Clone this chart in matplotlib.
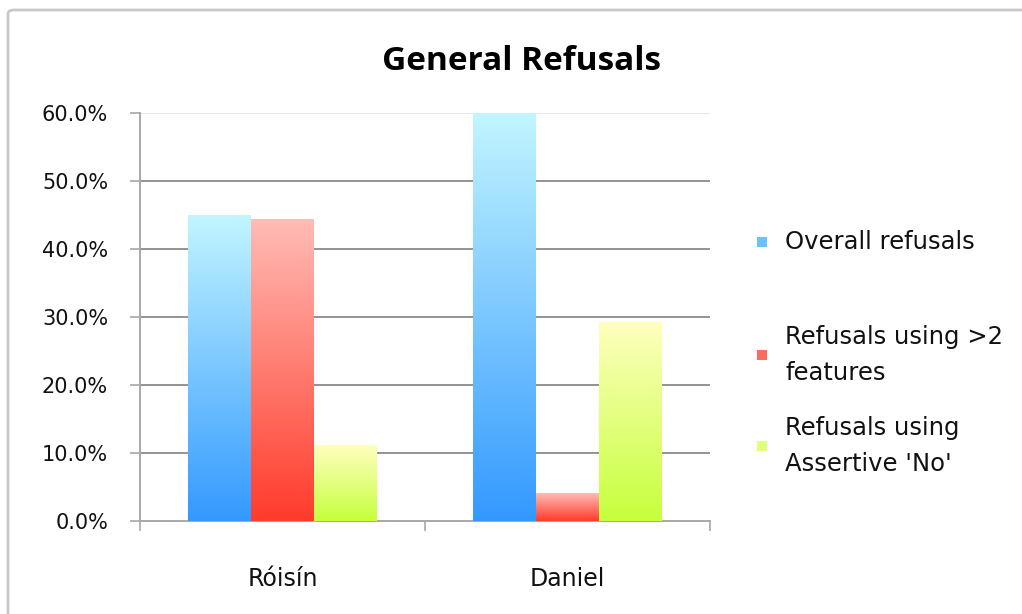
import numpy as np
import matplotlib
matplotlib.use("Agg")
import matplotlib.pyplot as plt
from matplotlib.colors import LinearSegmentedColormap
from matplotlib.patches import FancyBboxPatch, Rectangle
from matplotlib.ticker import PercentFormatter

# ---- data ----
categories = ["Róisín", "Daniel"]
series_names = ["Overall refusals", "Refusals using >2\nfeatures", "Refusals using\nAssertive 'No'"]
overall = [45.0, 60.0]
more_than_two = [44.4, 4.0]
assertive_no = [11.1, 29.2]
y_ticks = [0, 10, 20, 30, 40, 50, 60]

# gradient stops (top colour, bottom colour) per series
gradients = [("#c2f5ff", "#3399ff"), ("#ffbcb6", "#ff3b2b"), ("#ffffbe", "#c6ff3c")]
legend_colors = ["#6cc0ff", "#ff6a5e", "#e0ff7a"]

plt.rcParams["font.family"] = ["DejaVu Sans"]

W, H, DPI = 1022, 614, 100
fig = plt.figure(figsize=(W / DPI, H / DPI), dpi=DPI)
fig.patch.set_facecolor("white")

# outer chart frame
frame = FancyBboxPatch((8 / W, -0.05), 1.2, (H - 10) / H + 0.05,
                       boxstyle="round,pad=0,rounding_size=0.006",
                       transform=fig.transFigure, facecolor="none",
                       edgecolor="#c8c8c8", linewidth=2.0, zorder=-5)
fig.patches.append(frame)

left, right, top, bottom = 140, 710, 113, 521
ax = fig.add_axes([left / W, 1 - bottom / H, (right - left) / W, (bottom - top) / H])
ax.set_facecolor("none")

x = np.arange(len(categories))
bw = 0.221
all_series = [overall, more_than_two, assertive_no]
offsets = [-bw, 0.0, bw]

grad = np.linspace(0, 1, 256).reshape(-1, 1)
for vals, off, (ctop, cbot) in zip(all_series, offsets, gradients):
    bars = ax.bar(x + off, vals, width=bw, color="none", edgecolor="none", zorder=3)
    cmap = LinearSegmentedColormap.from_list("g", [cbot, ctop])
    for b in bars:
        bx, by = b.get_x(), b.get_y()
        bwid, bh = b.get_width(), b.get_height()
        ax.imshow(grad, cmap=cmap, aspect="auto", origin="lower",
                  extent=[bx, bx + bwid, by, by + bh], zorder=3,
                  interpolation="bilinear")

ax.set_xlim(-0.5, len(categories) - 0.5)
ax.set_ylim(0, 60)

# gridlines
for yv in y_ticks[1:]:
    col = "#e6e6e6" if yv == y_ticks[-1] else "#939393"
    ax.axhline(yv, color=col, linewidth=1.4, zorder=1)

for s in ["top", "right"]:
    ax.spines[s].set_visible(False)
for s in ["left", "bottom"]:
    ax.spines[s].set_color("#a8a8a8")
    ax.spines[s].set_linewidth(1.4)

ax.set_yticks(y_ticks)
ax.yaxis.set_major_formatter(PercentFormatter(decimals=1))
ax.tick_params(axis="y", direction="out", length=7, width=1.2, color="#a8a8a8",
               pad=16, labelsize=15, labelcolor="#111111")

ax.set_xticks(x)
ax.set_xticklabels(categories)
ax.set_xticks(np.arange(-0.5, len(categories), 1.0), minor=True)
ax.tick_params(axis="x", which="major", length=0, pad=33, labelsize=17, labelcolor="#111111")
ax.tick_params(axis="x", which="minor", direction="out", length=7, width=1.2, color="#a8a8a8")

# title
fig.text(521 / W, 1 - 61 / H, "General Refusals", ha="center", va="center",
         fontsize=24, fontweight="bold", color="#000000", family=["Open Sans", "DejaVu Sans"])

# legend
legend_y = [242, 355, 446]
for name, col, yy in zip(series_names, legend_colors, legend_y):
    fig.patches.append(Rectangle((757 / W, 1 - (yy + 5) / H), 10 / W, 10 / H,
                                 transform=fig.transFigure, facecolor=col,
                                 edgecolor="none", zorder=5))
    fig.text(785 / W, 1 - yy / H, name, ha="left", va="center", fontsize=17.5,
             color="#111111", linespacing=1.6)

fig.savefig("out.png", dpi=DPI)
